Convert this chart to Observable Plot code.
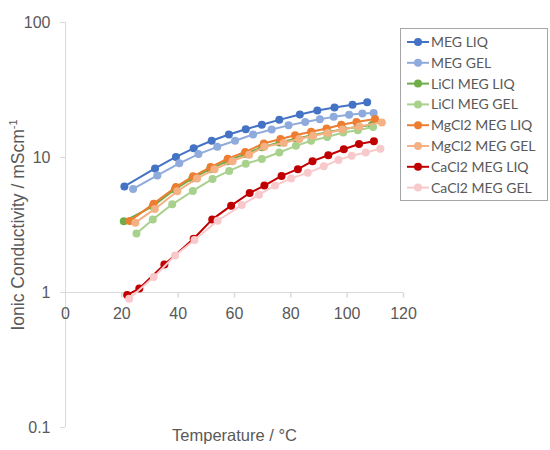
<!DOCTYPE html>
<html>
<head>
<meta charset="utf-8">
<script src="https://cdn.jsdelivr.net/npm/d3@7"></script>
<script src="https://cdn.jsdelivr.net/npm/@observablehq/plot@0.6"></script>
<style>
  html, body { margin: 0; padding: 0; background: #fff; }
  #chart { width: 550px; height: 450px; }
</style>
</head>
<body>
<div id="chart"></div>
<script>
// ---- Data ----
const seriesNames = ["MEG LIQ", "MEG GEL", "LiCl MEG LIQ", "LiCl MEG GEL",
                     "MgCl2 MEG LIQ", "MgCl2 MEG GEL", "CaCl2 MEG LIQ", "CaCl2 MEG GEL"];
const seriesColors = ["#4472C4", "#8FAADC", "#70AD47", "#A9D18E",
                      "#ED7D31", "#F4B183", "#C00000", "#F8C9CB"];

const megLiqTemp = [20.9, 31.8, 39.2, 45.5, 51.9, 58.0, 64.0, 69.7, 75.9, 83.2, 89.4, 95.5, 101.9, 107.1];
const megLiqCond = [6.1, 8.3, 10.1, 11.7, 13.3, 14.8, 16.2, 17.5, 19.0, 20.8, 22.3, 23.5, 24.6, 25.7];

const megGelTemp = [24.0, 32.6, 40.4, 47.2, 53.9, 60.2, 66.6, 73.2, 79.2, 85.1, 90.3, 95.2, 100.7, 105.4, 109.4];
const megGelCond = [5.85, 7.36, 9.06, 10.6, 12.0, 13.3, 14.8, 16.1, 17.3, 18.3, 19.2, 20.0, 20.7, 21.2, 21.4];

const liclLiqTemp = [20.7, 31.0, 38.8, 45.0, 51.3, 57.4, 63.6, 69.8, 76.0, 81.8, 87.6, 93.2, 98.5, 103.8, 108.8];
const liclLiqCond = [3.37, 4.35, 5.8, 7.0, 8.2, 9.4, 10.6, 11.9, 12.9, 13.8, 14.6, 15.4, 16.2, 16.9, 17.4];

const liclGelTemp = [25.2, 31.0, 37.9, 45.2, 52.2, 58.1, 64.0, 69.7, 75.9, 81.8, 87.2, 92.9, 98.6, 103.8, 109.2];
const liclGelCond = [2.73, 3.48, 4.50, 5.65, 6.94, 7.95, 9.0, 9.75, 10.9, 12.2, 13.3, 14.2, 15.3, 15.9, 16.8];

const mgclLiqTemp = [22.8, 31.3, 39.2, 45.3, 51.5, 57.6, 63.8, 70.4, 76.3, 81.5, 87.2, 92.7, 97.9, 103.3, 109.9];
const mgclLiqCond = [3.38, 4.55, 6.05, 7.25, 8.5, 9.8, 11.0, 12.7, 13.7, 14.6, 15.5, 16.4, 17.5, 18.3, 19.3];

const mgclGelTemp = [24.8, 31.7, 39.7, 46.7, 52.9, 59.3, 65.2, 70.6, 77.5, 83.0, 87.9, 93.1, 98.3, 104.3, 112.3];
const mgclGelCond = [3.29, 4.16, 5.63, 7.0, 8.18, 9.4, 10.5, 12.0, 12.8, 13.7, 14.5, 15.2, 16.1, 17.0, 18.2];

const caclLiqTemp = [21.9, 26.2, 35.1, 45.5, 52.1, 58.8, 65.4, 70.6, 76.7, 82.5, 87.7, 93.3, 98.8, 104.2, 109.5];
const caclLiqCond = [0.96, 1.07, 1.61, 2.5, 3.48, 4.4, 5.46, 6.2, 7.3, 8.2, 9.4, 10.4, 11.5, 12.6, 13.2];

const caclGelTemp = [22.6, 31.3, 38.9, 45.8, 54.0, 62.6, 68.7, 74.4, 80.1, 86.0, 91.7, 96.9, 101.6, 106.6, 111.8];
const caclGelCond = [0.90, 1.30, 1.88, 2.45, 3.4, 4.45, 5.3, 6.2, 7.0, 7.7, 8.6, 9.6, 10.3, 10.9, 11.6];

const xTicks = [0, 20, 40, 60, 80, 100, 120];
const yTicks = [0.1, 1, 10, 100];
const xTitle = "Temperature / °C";
const yTitle = "Ionic Conductivity / mScm";
const yTitleSup = "-1";

// ---- Build table ----
const seriesTemps = [megLiqTemp, megGelTemp, liclLiqTemp, liclGelTemp, mgclLiqTemp, mgclGelTemp, caclLiqTemp, caclGelTemp];
const seriesConds = [megLiqCond, megGelCond, liclLiqCond, liclGelCond, mgclLiqCond, mgclGelCond, caclLiqCond, caclGelCond];
const series = seriesNames.map((name, i) => ({
  name, color: seriesColors[i],
  rows: seriesTemps[i].map((t, j) => ({series: name, temp: t, cond: seriesConds[i][j]}))
}));

const axisGray = "#d9d9d9";
const textGray = "#595959";
const axisFont = "'Liberation Sans', Arial, sans-serif";

const tickSymbol = { draw(ctx) { ctx.moveTo(0, 0); ctx.lineTo(0, 5); } };

const marks = [
  Plot.ruleX([0], {stroke: axisGray}),
  Plot.ruleY([1], {stroke: axisGray}),
  Plot.dot(xTicks.filter(d => d > 0), {x: d => d, y: () => 1, symbol: tickSymbol, stroke: axisGray, fill: "none", r: 3}),
  Plot.text(xTicks, {x: d => d, y: () => 1, text: d => String(d), dy: 21, fontSize: 16, fontFamily: axisFont, fill: textGray}),
  Plot.axisY({ticks: yTicks, tickSize: 5, tickPadding: 10, tickFormat: d => String(d), fontSize: 16, fontFamily: axisFont, fill: textGray, stroke: axisGray, label: null})
];
for (const s of series) {
  marks.push(Plot.line(s.rows, {x: "temp", y: "cond", stroke: s.color, strokeWidth: 2}));
  marks.push(Plot.dot(s.rows, {x: "temp", y: "cond", fill: s.color, r: 4}));
}
marks.push(Plot.text([xTitle], {frameAnchor: "bottom", dy: 13, fontSize: 16.5, fontFamily: axisFont, fill: textGray}));

const chart = Plot.plot({
  width: 550,
  height: 450,
  marginLeft: 65,
  marginRight: 147,
  marginTop: 22,
  marginBottom: 23,
  style: {fontFamily: axisFont, fontSize: "16px", background: "#fff", color: textGray, overflow: "visible"},
  x: {domain: [0, 120], axis: null},
  y: {type: "log", domain: [0.1, 100], axis: null},
  marks
});

const svg = d3.select(chart).style("font-family", axisFont);

// y-axis title with superscript
const yt = svg.append("text")
  .attr("transform", "translate(24,225) rotate(-90)")
  .attr("text-anchor", "middle")
  .attr("font-family", axisFont)
  .attr("font-size", 17.5)
  .attr("fill", textGray);
yt.append("tspan").text(yTitle);
yt.append("tspan").attr("dy", -7).attr("font-size", 11).text(yTitleSup);

// legend
const lg = svg.append("g").attr("font-family", "Lato, 'Noto Sans', sans-serif").attr("font-size", 14).attr("text-anchor", "start");
lg.append("rect").attr("x", 400.5).attr("y", 28.5).attr("width", 147).attr("height", 172)
  .attr("fill", "#fff").attr("stroke", "#a6a6a6");
series.forEach((s, i) => {
  const y = 42 + i * 20.8;
  const g = lg.append("g").attr("transform", `translate(0,${y})`);
  g.append("line").attr("x1", 407).attr("x2", 429).attr("y1", 0).attr("y2", 0).attr("stroke", s.color).attr("stroke-width", 2);
  g.append("circle").attr("cx", 418).attr("cy", 0).attr("r", 4).attr("fill", s.color);
  g.append("text").attr("x", 431).attr("y", 0).attr("dy", "0.35em").attr("text-anchor", "start").attr("fill", textGray).text(s.name);
});

document.getElementById("chart").appendChild(chart);
</script>
</body>
</html>
